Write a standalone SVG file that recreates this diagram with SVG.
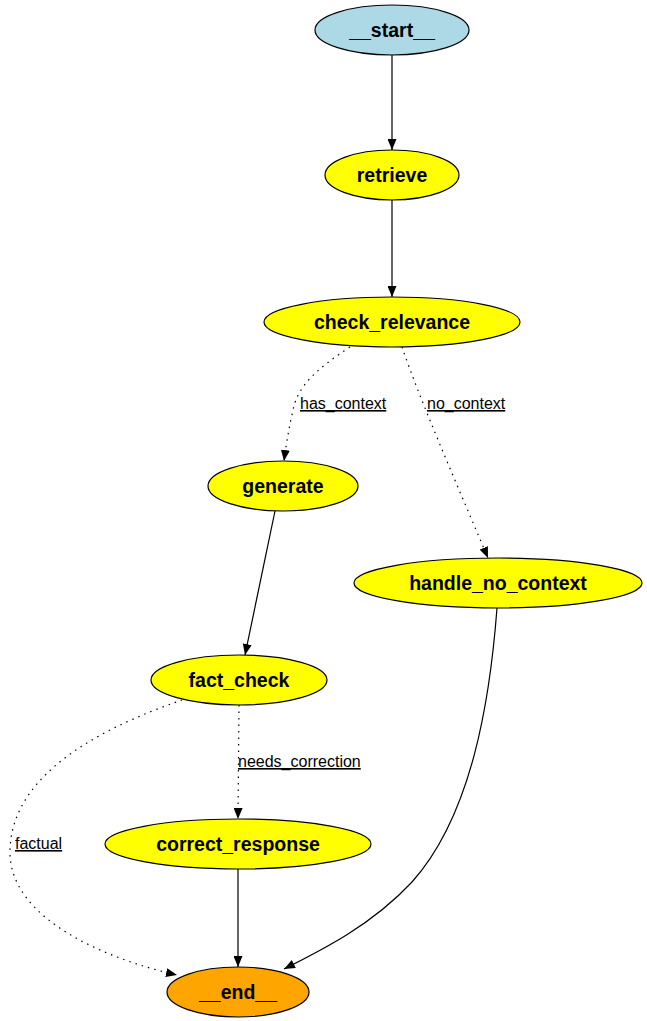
<svg xmlns="http://www.w3.org/2000/svg" width="647" height="1021" viewBox="0 0 647 1021">
<style>
.node ellipse{stroke:#000;stroke-width:1.2}
.node text{font-family:"Liberation Sans",Arial,sans-serif;font-weight:bold;font-size:19.5px;text-anchor:middle;fill:#000}
.edge{fill:none;stroke:#000;stroke-width:1.2}
.dot{stroke-dasharray:1.5,5}
.lbl{font-family:"Liberation Sans",Arial,sans-serif;font-size:16px;fill:#000;text-decoration:underline}
</style>
<defs>
<marker id="arr" viewBox="0 0 11 9" refX="11" refY="4.5" markerWidth="11" markerHeight="9" markerUnits="userSpaceOnUse" orient="auto">
<path d="M0,0 L11,4.5 L0,9 Z" fill="#000"/>
</marker>
</defs>
<rect width="647" height="1021" fill="#fff"/>
<g id="edges">
<path class="edge" d="M392,55 L392,150" marker-end="url(#arr)"/>
<path class="edge" d="M392,200 L392,297" marker-end="url(#arr)"/>
<path class="edge dot" d="M350,347 C318,368 298,385 293,410 C289,428 286,445 284,461" marker-end="url(#arr)"/>
<path class="edge dot" d="M402,347 C420,400 455,480 488,558" marker-end="url(#arr)"/>
<text class="lbl" x="300" y="409">has_context</text>
<text class="lbl" x="427" y="409">no_context</text>
<path class="edge" d="M275,511 L245,655" marker-end="url(#arr)"/>
<path class="edge dot" d="M239,705 L238,819" marker-end="url(#arr)"/>
<text class="lbl" x="238" y="767">needs_correction</text>
<path class="edge dot" d="M182,700 C110,725 12,770 10,850 C8,920 110,960 177,975" marker-end="url(#arr)"/>
<text class="lbl" x="15" y="849">factual</text>
<path class="edge" d="M238,869 L238,967" marker-end="url(#arr)"/>
<path class="edge" d="M497,608 C490,700 472,815 412,882 C372,925 322,950 284,969" marker-end="url(#arr)"/>
</g>
<g id="start" class="node"><ellipse cx="392" cy="30" rx="77" ry="25" fill="#add8e6"/><text x="392" y="37">__start__</text></g>
<g id="retrieve" class="node"><ellipse cx="392" cy="175" rx="67" ry="25" fill="#ffff00"/><text x="392" y="182">retrieve</text></g>
<g id="check_relevance" class="node"><ellipse cx="392" cy="322" rx="128" ry="25" fill="#ffff00"/><text x="392" y="329">check_relevance</text></g>
<g id="generate" class="node"><ellipse cx="283" cy="486" rx="75" ry="25" fill="#ffff00"/><text x="283" y="493">generate</text></g>
<g id="handle_no_context" class="node"><ellipse cx="498" cy="583" rx="144" ry="25" fill="#ffff00"/><text x="498" y="590">handle_no_context</text></g>
<g id="fact_check" class="node"><ellipse cx="239" cy="680" rx="88" ry="25" fill="#ffff00"/><text x="239" y="687">fact_check</text></g>
<g id="correct_response" class="node"><ellipse cx="238" cy="844" rx="133" ry="25" fill="#ffff00"/><text x="238" y="851">correct_response</text></g>
<g id="end" class="node"><ellipse cx="238" cy="992" rx="71" ry="25" fill="#ffa500"/><text x="238" y="999">__end__</text></g>
</svg>
